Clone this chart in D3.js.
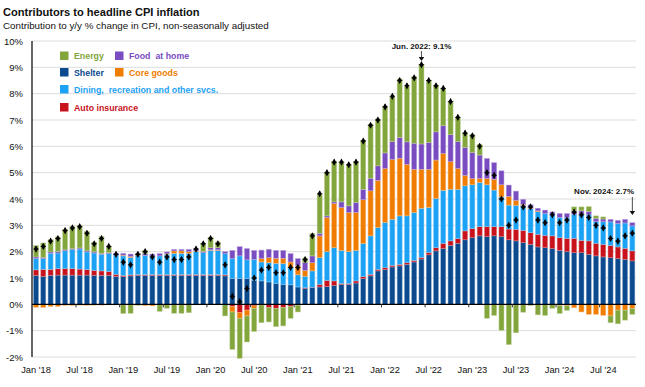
<!DOCTYPE html>
<html><head><meta charset="utf-8">
<script src="https://cdn.jsdelivr.net/npm/d3@7"></script>
<style>
body{margin:0;background:#fff}
svg{display:block}
text{font-family:"Liberation Sans",Arial,Helvetica,sans-serif}
</style>
</head><body>
<svg id="chart" width="645" height="387"></svg>
<script>
// ---------------- DATA ----------------
const seriesKeys = ["shelter","autoInsurance","dining","coreGoods","foodAtHome","energy"];
const seriesNames = {
  energy: "Energy", foodAtHome: "Food  at home", shelter: "Shelter",
  coreGoods: "Core goods", dining: "Dining,  recreation and other svcs.", autoInsurance: "Auto insurance"
};
// Jan 2018 ... Nov 2024, monthly contributions (percentage points)
const shelter = [1.10,1.06,1.10,1.11,1.11,1.11,1.11,1.11,1.10,1.10,1.10,1.06,
  1.05,1.08,1.10,1.10,1.10,1.10,1.10,1.10,1.10,1.10,1.10,1.10,
  1.10,1.10,1.08,0.99,0.99,0.98,0.91,0.89,0.85,0.80,0.76,0.74,
  0.66,0.61,0.63,0.66,0.67,0.72,0.75,0.76,0.81,0.98,1.08,1.27,
  1.32,1.42,1.46,1.52,1.61,1.72,1.88,2.03,2.12,2.24,2.32,2.45,
  2.53,2.60,2.57,2.60,2.57,2.45,2.41,2.34,2.28,2.18,2.15,2.12,
  2.05,2.00,1.96,1.96,1.90,1.84,1.80,1.77,1.74,1.71,1.65];
const autoInsurance = [0.21,0.27,0.23,0.25,0.25,0.25,0.23,0.21,0.19,0.17,0.15,0.08,
  0.05,0.04,0.03,0.03,0.03,0.03,0.03,0.03,0.03,0.03,0.03,0.03,
  0.03,0.03,0.04,-0.09,-0.32,-0.22,-0.06,-0.02,-0.13,-0.16,-0.12,-0.09,
  -0.03,0.02,0.02,0.10,0.24,0.17,0.04,0.03,0.08,0.07,0.06,0.06,
  0.07,0.06,0.06,0.06,0.06,0.06,0.09,0.12,0.20,0.17,0.18,0.34,
  0.35,0.35,0.38,0.35,0.38,0.41,0.44,0.47,0.44,0.48,0.47,0.48,
  0.48,0.51,0.55,0.47,0.51,0.48,0.48,0.47,0.44,0.42,0.38];
const dining = [0.43,0.41,0.61,0.59,0.67,0.72,0.76,0.67,0.66,0.63,0.68,0.74,
  0.74,0.66,0.73,0.73,0.70,0.71,0.77,0.81,0.81,0.81,0.88,0.83,
  0.92,0.92,0.81,0.75,0.85,0.71,0.80,0.72,0.73,0.76,0.79,0.65,
  0.46,0.44,0.62,1.01,1.09,1.26,1.26,1.21,1.16,1.26,1.46,1.59,
  1.72,1.75,1.84,1.78,1.82,1.87,1.71,1.87,2.01,1.96,1.87,1.71,
  1.66,1.68,1.59,1.39,1.13,0.91,0.91,0.95,0.92,0.86,0.83,0.80,
  0.77,0.79,0.91,0.99,0.99,0.82,0.86,0.89,0.89,0.96,0.95];
const coreGoods = [-0.11,-0.12,-0.08,-0.08,-0.04,-0.04,-0.03,-0.04,-0.03,-0.03,-0.02,0.00,
  0.03,0.04,0.02,-0.05,-0.06,-0.02,0.03,0.09,0.09,0.06,0.02,0.00,
  0.02,0.02,0.00,-0.20,-0.21,-0.22,-0.10,0.13,0.19,0.19,0.20,0.22,
  0.34,0.22,0.31,0.83,1.30,1.68,1.63,1.49,1.44,1.66,1.71,1.79,
  2.05,2.27,2.19,1.96,1.64,1.48,1.45,1.46,1.40,1.05,0.79,0.40,
  0.24,0.15,0.24,0.41,0.46,0.33,0.19,0.04,0.02,0.03,0.00,0.00,
  -0.05,-0.06,-0.13,-0.29,-0.38,-0.38,-0.42,-0.44,-0.22,-0.22,-0.16];
const foodAtHome = [0.06,0.04,0.05,0.06,0.04,0.03,0.04,0.04,0.04,0.03,0.03,0.06,
  0.07,0.09,0.06,0.06,0.08,0.09,0.06,0.06,0.06,0.09,0.08,0.05,
  0.08,0.08,0.07,0.31,0.35,0.43,0.34,0.32,0.32,0.30,0.30,0.32,
  0.28,0.29,0.26,0.10,0.06,0.06,0.21,0.25,0.38,0.40,0.48,0.55,
  0.59,0.68,0.79,0.85,0.99,0.96,1.02,1.07,1.05,1.02,1.02,1.06,
  0.99,0.89,0.76,0.63,0.53,0.43,0.35,0.19,0.12,0.10,0.13,0.11,
  0.15,0.15,0.13,0.13,0.13,0.13,0.10,0.10,0.12,0.14,0.12];
const energy = [0.43,0.55,0.47,0.55,0.78,0.85,0.86,0.74,0.36,0.65,0.25,-0.02,
  -0.35,-0.34,-0.04,0.13,0.00,-0.25,-0.15,-0.34,-0.34,-0.32,-0.02,0.31,
  0.40,0.22,-0.44,-1.42,-1.52,-0.99,-0.87,-0.68,-0.54,-0.69,-0.70,-0.44,
  -0.26,0.18,0.85,1.48,1.65,1.52,1.50,1.55,1.55,1.87,2.05,1.78,
  1.75,1.70,2.22,2.09,2.52,3.01,2.35,1.75,1.42,1.26,0.92,0.54,
  0.67,0.41,-0.53,-0.42,-0.99,-1.53,-1.08,-0.30,-0.05,-0.40,-0.42,-0.15,
  -0.30,-0.17,0.15,0.15,0.18,0.09,0.08,-0.26,-0.52,-0.38,-0.22];
const headline = [2.1,2.2,2.4,2.5,2.8,2.9,2.95,2.7,2.3,2.5,2.2,1.9,
  1.6,1.5,1.9,2.0,1.8,1.6,1.8,1.7,1.7,1.8,2.1,2.3,
  2.5,2.3,1.5,0.3,0.1,0.6,1.0,1.3,1.4,1.2,1.2,1.4,
  1.4,1.7,2.6,4.2,5.0,5.4,5.4,5.3,5.4,6.2,6.8,7.0,
  7.5,7.9,8.5,8.3,8.6,9.1,8.5,8.3,8.2,7.7,7.1,6.5,
  6.4,6.0,5.0,4.9,4.0,3.0,3.2,3.7,3.7,3.2,3.1,3.4,
  3.1,3.2,3.5,3.4,3.3,3.0,2.9,2.5,2.4,2.6,2.7];
const tickLabels = ["Jan '18","Jul '18","Jan '19","Jul '19","Jan '20","Jul '20","Jan '21",
  "Jul '21","Jan '22","Jul '22","Jan '23","Jul '23","Jan '24","Jul '24"];
const yTicks = [-2,-1,0,1,2,3,4,5,6,7,8,9,10];
const colors = {shelter:"#0b4a8f", autoInsurance:"#c8121c", dining:"#1ca2f4",
  coreGoods:"#f07c00", foodAtHome:"#7a4cc1", energy:"#82a53c"};

// ---------------- CHART ----------------
const months = d3.timeMonth.range(new Date(2018,0,1), new Date(2024,11,1));
const rows = months.map((m,i)=>({i, date:m, shelter:shelter[i], autoInsurance:autoInsurance[i],
  dining:dining[i], coreGoods:coreGoods[i], foodAtHome:foodAtHome[i], energy:energy[i], headline:headline[i]}));

const svg = d3.select("#chart");
const FONT = '"Liberation Sans",Arial,Helvetica,sans-serif';
const x = d3.scaleBand().domain(d3.range(rows.length)).range([32.4,636])
  .paddingInner(0.31).paddingOuter(0.155);
const y = d3.scaleLinear().domain([-2,10]).range([357,41]);
const cx = i => x(i) + x.bandwidth()/2;

// title
svg.append("text").attr("x",3).attr("y",16).attr("font-size",11.1).attr("font-weight","bold")
  .attr("fill","#111").text("Contributors to headline CPI inflation");
svg.append("text").attr("x",3).attr("y",28.5).attr("font-size",9.8)
  .attr("fill","#111").text("Contribution to y/y % change in CPI, non-seasonally adjusted");

// gridlines
svg.append("g").selectAll("line").data(yTicks.filter(d=>d!==0)).join("line")
  .attr("x1",32).attr("x2",636).attr("y1",d=>y(d)).attr("y2",d=>y(d))
  .attr("stroke","#dcdcdc").attr("stroke-width",1);

// y axis labels
const yAxis = svg.append("g").attr("transform","translate(32,0)")
  .call(d3.axisLeft(y).tickValues(yTicks).tickFormat(d=>d+"%").tickSize(0).tickPadding(9));
yAxis.select(".domain").remove();
yAxis.selectAll("text").attr("font-size",9.5).attr("font-family",FONT).attr("fill","#111");

// bars
const stack = d3.stack().keys(seriesKeys).offset(d3.stackOffsetDiverging);
const layers = stack(rows);
svg.append("g").selectAll("g").data(layers).join("g")
  .attr("fill",d=>colors[d.key])
  .attr("stroke",d=>d3.interpolateRgb(colors[d.key],"#ffffff")(0.5))
  .attr("stroke-width",0.5)
  .selectAll("rect").data(d=>d).join("rect")
  .attr("x",d=>x(d.data.i)).attr("width",x.bandwidth())
  .attr("y",d=>y(Math.max(d[0],d[1])))
  .attr("height",d=>Math.abs(y(d[0])-y(d[1])));

// zero line + axis line
svg.append("line").attr("x1",32).attr("x2",636).attr("y1",y(0)).attr("y2",y(0))
  .attr("stroke","#000").attr("stroke-width",1.2);
svg.append("line").attr("x1",32).attr("x2",32).attr("y1",y(10)).attr("y2",y(-2))
  .attr("stroke","#000").attr("stroke-width",1.2);

// x tick marks at half-year boundaries
const tickIdx = d3.range(6, rows.length, 6);
svg.append("g").selectAll("line").data(tickIdx).join("line")
  .attr("x1",d=>x(d)-(x.step()-x.bandwidth())/2).attr("x2",d=>x(d)-(x.step()-x.bandwidth())/2)
  .attr("y1",y(0)).attr("y2",y(0)+3).attr("stroke","#333").attr("stroke-width",1);

// x labels
const xAxis = svg.append("g").attr("transform",`translate(0,${y(-2)})`)
  .call(d3.axisBottom(x).tickValues(d3.range(0, rows.length, 6))
    .tickFormat((d,i)=>tickLabels[i]).tickSize(0).tickPadding(9));
xAxis.select(".domain").remove();
xAxis.selectAll("text").attr("font-size",9.3).attr("font-family",FONT).attr("fill","#111");

// headline markers
const mk = svg.append("g").selectAll("g").data(rows).join("g")
  .attr("transform",d=>`translate(${cx(d.i)},${y(d.headline)})`);
mk.append("path").attr("d",d3.symbol(d3.symbolDiamond,15)).attr("fill","#000");
mk.append("path").attr("d","M-2.7,0H2.7M0,-2.7V2.7").attr("stroke","#000").attr("stroke-width",0.8);

// annotations
function annot(idx, label, tx, ty, anchor, y1, y2){
  svg.append("text").attr("x",tx).attr("y",ty).attr("font-size",8).attr("font-weight","bold")
    .attr("text-anchor",anchor).attr("fill","#111").text(label);
  const ax = cx(idx);
  svg.append("line").attr("x1",ax).attr("x2",ax).attr("y1",y1).attr("y2",y2-3)
    .attr("stroke","#222").attr("stroke-width",0.8);
  svg.append("path").attr("d",`M${ax-2.8},${y2-4}L${ax+2.8},${y2-4}L${ax},${y2}Z`).attr("fill","#111");
}
annot(53, "Jun. 2022: 9.1%", cx(53), 49, "middle", 51, 61);
annot(82, "Nov. 2024: 2.7%", 634, 194, "end", 197, 215);

// legend
const legendItems = [
  {key:"energy", x:60, y:51.5}, {key:"foodAtHome", x:115, y:51.5},
  {key:"shelter", x:60, y:68}, {key:"coreGoods", x:115, y:68},
  {key:"dining", x:60, y:85}, {key:"autoInsurance", x:60, y:103}
];
const lg = svg.append("g").selectAll("g").data(legendItems).join("g")
  .attr("transform",d=>`translate(${d.x},${d.y})`);
lg.append("rect").attr("width",8.5).attr("height",8.5).attr("fill",d=>colors[d.key]);
lg.append("text").attr("x",14).attr("y",7.8).attr("font-size",8.8).attr("font-weight","bold")
  .attr("fill",d=>colors[d.key]).attr("xml:space","preserve").style("white-space","pre")
  .text(d=>seriesNames[d.key]);
</script>
</body></html>
